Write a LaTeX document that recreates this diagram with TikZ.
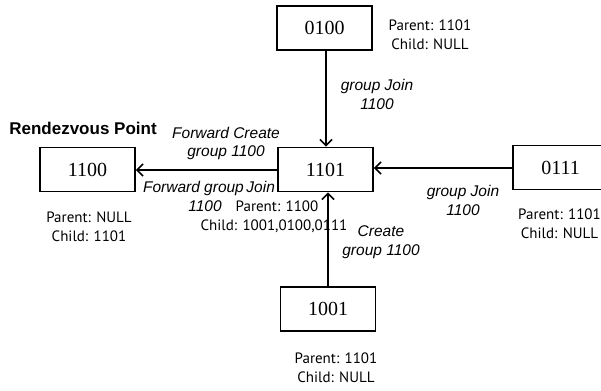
\documentclass[tikz,border=0pt]{standalone}
\usepackage{fontspec}
\setmainfont{Liberation Serif}
\newfontfamily\msgfont{Liberation Sans}
\newfontfamily\infofont{PT Sans}
\usetikzlibrary{arrows.meta}
\tikzset{
  router/.style={draw, line width=1.8pt, minimum width=95pt, minimum height=44pt,
    inner sep=0pt, font=\fontsize{20}{24}\selectfont},
  msg/.style={font=\msgfont\itshape\fontsize{15.5}{18.5}\selectfont, align=center, inner sep=0pt},
  info/.style={font=\infofont\fontsize{15}{19}\selectfont, align=center, inner sep=0pt},
  title/.style={font=\msgfont\bfseries\fontsize{17}{20}\selectfont, inner sep=0pt},
  link/.style={line width=1.6pt, -{Straight Barb[length=6pt,width=12pt,line width=1.6pt]}}
}
\begin{document}
\begin{tikzpicture}[x=1pt,y=-1pt]
\useasboundingbox (0,0) rectangle (601,390);
\clip (0,0) rectangle (601,390);
% routers
\node[router] (n0100) at (324.5,28)  {0100};
\node[router] (n1101) at (325.5,169.5) {1101};
\node[router] (n0111) at (560.5,167.5) {0111};
\node[router] (n1100) at (87.5,169.5) {1100};
\node[router] (n1001) at (328,309) {1001};
% messages towards the core and on to the rendezvous point
\draw[link] (n0100.south -| 326,0) -- (n1101.north -| 326,0);
\draw[link] (n0111.west |- 0,168) -- (n1101.east |- 0,168);
\draw[link] (n1001.north -| 328,0) -- (n1101.south -| 328,0);
\draw[link] (n1101.west |- 0,170) -- (n1100.east |- 0,170);
% labels
\node[title] (rp) at (83,128) {Rendezvous Point};
\node[msg] (m1) at (377,94.5) {group Join\\1100};
\node[msg] (m2) at (226,143.5) {Forward Create\\group 1100};
\node[msg] (m3) at (209,196.5) {Forward group\,Join\\\hspace*{-8pt}1100};
\node[msg] (m4) at (463,200.5) {group Join\\1100};
\node[msg] (m5) at (381,242) {Create\\group 1100};
% tree state of each router
\node[info] (s0100) at (430,35) {Parent: 1101\\Child: NULL};
\node[info] (s1101) at (274,216.5) {\hspace*{6pt}Parent: 1100\\Child: 1001,0100,0111};
\node[info] (s1100) at (89,226.5) {Parent: NULL\\Child: 1101};
\node[info] (s0111) at (559.5,224) {Parent: 1101\\Child: NULL};
\node[info] (s1001) at (336,368) {Parent: 1101\\Child: NULL};
\end{tikzpicture}
\end{document}
